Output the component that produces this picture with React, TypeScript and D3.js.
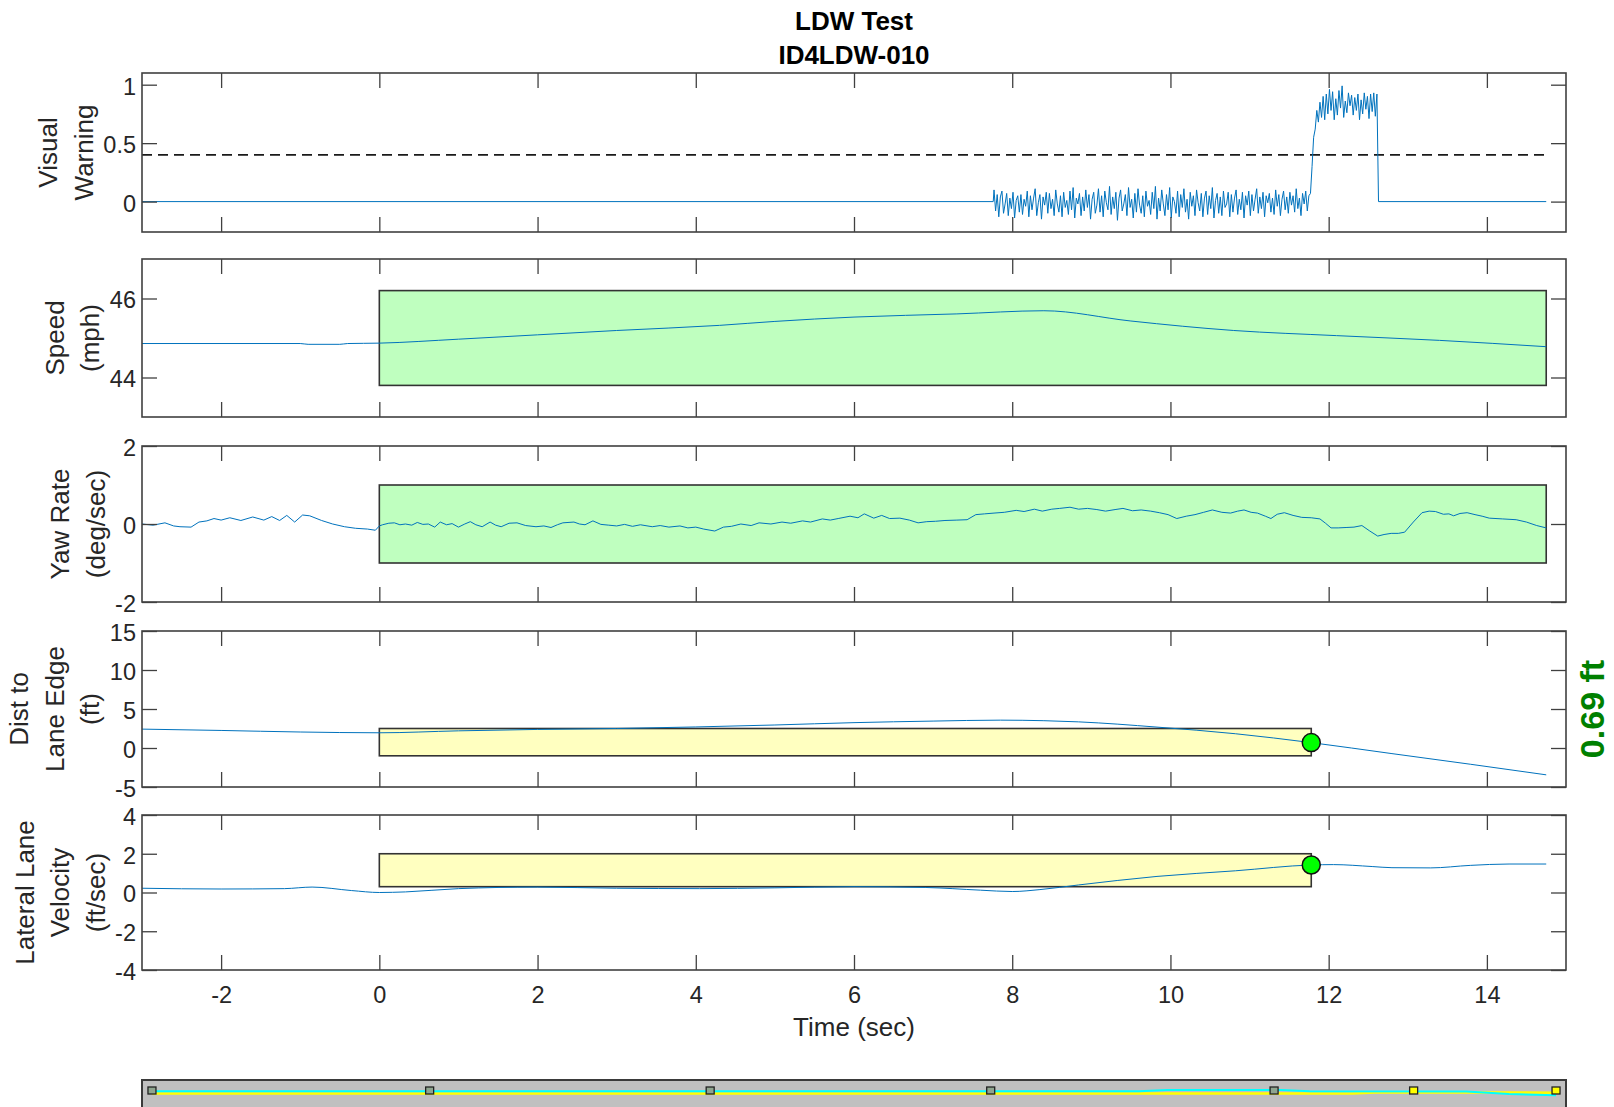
import * as d3 from 'd3';
import { useEffect, useRef } from 'react';

type Pt = [number, number];

// time axis
const timeDomain: [number, number] = [-3, 15];
const timeTicks = [-2, 0, 2, 4, 6, 8, 10, 12, 14];

// visual warning: flat, noisy band (sampled every 0.02 s from 7.77 s), then the alert
const warnNoiseStart = 7.77;
const warnNoiseStep = 0.02;
const warnNoise = [
  .10, -.08, .06, -.13, .04, .09, -.10, -.02, .07, -.12, .03, -.06, .08, -.14, .01, .05, -.09, .06, -.11, .02,
  -.04, .09, -.13, .05, -.07, .03, .11, -.12, -.01, .06, -.15, .04, -.03, .08, -.10, .07, -.06, .02, -.12, .10,
  -.02, -.09, .05, -.13, .08, -.05, .01, -.11, .09, -.07, .12, -.14, .03, -.02, .07, -.12, .04, -.08, .10, -.05,
  .06, -.15, .02, .08, -.10, -.03, .11, -.09, .05, -.13, .09, -.01, -.07, .13, -.11, .04, -.06, .08, -.16, .03,
  .10, -.08, -.02, .06, -.12, .12, -.05, .02, -.14, .07, -.09, .11, -.03, -.10, .05, -.13, .09, -.04, .01, -.11,
  .08, -.06, .13, -.15, .03, -.08, .10, -.02, -.12, .06, -.07, .12, -.14, .04, .00, -.10, .09, -.13, .06, -.05,
  .11, -.09, .02, -.15, .08, -.04, .05, -.12, .10, -.01, -.08, .07, -.13, .03, .09, -.11, .05, -.06, .12, -.14,
  .01, .07, -.10, .04, -.12, .09, -.05, -.02, .08, -.13, .06, -.09, .03, .10, -.11, .02, -.07, .08, -.14, .05,
  -.03, .09, -.12, .06, -.08, .02, .11, -.10, .04, -.06, .08, -.13, .05, -.01, .07, -.09, .03, -.11, .10, -.04,
  .06, -.12, .02, .09, -.07, .04, -.10, .08, -.03, .05, -.09, .11, -.06, .03, -.12, .07, -.02, .09, -.08, .05,
  .07,
];
const warnBefore: Pt[] = [[-3, 0], [7.76, 0]];
const warnAlert: Pt[] = [
  [11.79, 0.30], [11.81, 0.55], [11.83, 0.62], [11.85, 0.78], [11.87, 0.68], [11.89, 0.85], [11.91, 0.72],
  [11.93, 0.90], [11.95, 0.70], [11.97, 0.92], [11.99, 0.75], [12.01, 0.96], [12.03, 0.78], [12.05, 0.94],
  [12.07, 0.70], [12.09, 0.88], [12.11, 0.74], [12.13, 0.95], [12.15, 0.80], [12.17, 0.99], [12.19, 0.72],
  [12.21, 0.86], [12.23, 0.76], [12.25, 0.93], [12.27, 0.82], [12.29, 0.91], [12.31, 0.74], [12.33, 0.89],
  [12.35, 0.78], [12.37, 0.92], [12.39, 0.70], [12.41, 0.87], [12.43, 0.75], [12.45, 0.93], [12.47, 0.79],
  [12.49, 0.90], [12.51, 0.71], [12.53, 0.92], [12.55, 0.77], [12.57, 0.93], [12.59, 0.73], [12.61, 0.92],
  [12.63, 0.0], [14.75, 0.0],
];
const warningThreshold = 0.4;

const speed: Pt[] = [
  [-3, 44.86], [-1.0, 44.86], [-0.9, 44.84], [-0.5, 44.84], [-0.4, 44.86], [0, 44.87], [1, 44.97],
  [2, 45.08], [3, 45.19], [4.3, 45.32], [5, 45.42], [6, 45.53], [7.3, 45.61], [8.4, 45.69], [9.5, 45.43],
  [10.8, 45.19], [12.1, 45.06], [13.4, 44.94], [14.75, 44.78],
];

const yawRate: Pt[] = [
  [-3.0, 0], [-2.86, -0.03], [-2.71, 0.03], [-2.6, -0.05], [-2.52, -0.07], [-2.38, -0.08], [-2.28, 0.05],
  [-2.18, 0.08], [-2.09, 0.14], [-2.0, 0.1], [-1.89, 0.16], [-1.75, 0.09], [-1.6, 0.18], [-1.46, 0.1],
  [-1.36, 0.19], [-1.26, 0.09], [-1.17, 0.22], [-1.07, 0.05], [-0.97, 0.23], [-0.88, 0.21], [-0.73, 0.09],
  [-0.59, 0.0], [-0.44, -0.07], [-0.3, -0.11], [-0.15, -0.13], [-0.05, -0.16], [0.0, -0.05],
  [0.04, -0.02], [0.12, 0.02], [0.19, 0.03], [0.26, -0.02], [0.33, 0.0], [0.41, -0.03], [0.48, 0.04],
  [0.55, -0.01], [0.62, 0.0], [0.7, -0.08], [0.77, 0.05], [0.85, -0.02], [0.92, 0.01], [1.0, -0.08],
  [1.08, 0.0], [1.15, 0.06], [1.22, -0.02], [1.3, -0.07], [1.4, 0.05], [1.47, -0.03], [1.54, -0.07],
  [1.64, 0.02], [1.74, 0.03], [1.85, -0.04], [1.98, -0.07], [2.08, -0.05], [2.17, -0.09], [2.25, -0.02],
  [2.32, 0.03], [2.46, 0.05], [2.53, 0.0], [2.6, -0.02], [2.7, 0.08], [2.8, -0.01], [2.9, -0.03],
  [3.0, -0.05], [3.1, -0.01], [3.2, -0.06], [3.3, -0.02], [3.45, -0.07], [3.55, -0.04], [3.66, -0.08],
  [3.8, -0.05], [3.9, -0.1], [4.0, -0.08], [4.1, -0.13], [4.24, -0.18], [4.35, -0.08], [4.45, -0.06],
  [4.57, 0.0], [4.7, -0.04], [4.8, 0.03], [4.95, 0.0], [5.09, 0.05], [5.2, 0.02], [5.35, 0.08],
  [5.45, 0.05], [5.6, 0.13], [5.7, 0.1], [5.8, 0.14], [5.95, 0.2], [6.05, 0.16], [6.13, 0.26],
  [6.25, 0.15], [6.35, 0.22], [6.45, 0.14], [6.58, 0.15], [6.7, 0.1], [6.81, 0.03], [6.92, 0.06],
  [7.03, 0.07], [7.15, 0.09], [7.3, 0.1], [7.43, 0.11], [7.54, 0.24], [7.65, 0.26], [7.77, 0.28],
  [7.9, 0.3], [8.05, 0.35], [8.15, 0.32], [8.28, 0.38], [8.38, 0.33], [8.5, 0.38], [8.6, 0.4],
  [8.73, 0.43], [8.84, 0.38], [8.95, 0.4], [9.07, 0.37], [9.18, 0.33], [9.3, 0.37], [9.4, 0.4],
  [9.52, 0.34], [9.63, 0.36], [9.75, 0.33], [9.86, 0.29], [9.97, 0.24], [10.08, 0.14], [10.2, 0.2],
  [10.31, 0.24], [10.42, 0.3], [10.53, 0.36], [10.65, 0.3], [10.76, 0.28], [10.85, 0.33], [10.93, 0.36],
  [11.02, 0.3], [11.1, 0.28], [11.2, 0.2], [11.27, 0.14], [11.35, 0.25], [11.44, 0.29], [11.55, 0.22],
  [11.66, 0.17], [11.78, 0.16], [11.89, 0.13], [11.96, 0.02], [12.03, -0.1], [12.12, -0.1], [12.22, -0.09],
  [12.32, -0.08], [12.42, -0.04], [12.52, -0.18], [12.62, -0.31], [12.7, -0.27], [12.79, -0.24],
  [12.88, -0.24], [12.96, -0.21], [13.07, 0.05], [13.18, 0.29], [13.27, 0.33], [13.35, 0.32], [13.45, 0.25],
  [13.52, 0.26], [13.58, 0.21], [13.66, 0.27], [13.75, 0.29], [13.85, 0.24], [13.94, 0.2], [14.03, 0.15],
  [14.2, 0.13], [14.37, 0.11], [14.5, 0.05], [14.63, -0.04], [14.75, -0.1],
];

const distToEdge: Pt[] = [
  [-3, 2.42], [-2, 2.25], [-1, 2.05], [0, 1.95], [1, 2.2], [2, 2.38], [3, 2.5], [4, 2.7], [5, 2.95],
  [6, 3.25], [7, 3.45], [7.85, 3.57], [8.4, 3.5], [8.84, 3.35], [9.83, 2.68], [10.82, 1.83], [11.78, 0.69],
  [12.8, -0.72], [13.79, -2.08], [14.75, -3.44],
];

const latVelocity: Pt[] = [
  [-3, 0.22], [-2, 0.18], [-1.2, 0.2], [-0.85, 0.28], [-0.35, 0.1], [0, 0.0], [0.33, 0.03], [1, 0.2],
  [2, 0.28], [3, 0.22], [4.05, 0.2], [5, 0.24], [6, 0.3], [6.9, 0.26], [7.6, 0.12], [8, 0.05], [8.35, 0.15],
  [8.84, 0.39], [9.83, 0.83], [10.82, 1.12], [11.78, 1.42], [12.06, 1.44], [12.55, 1.34], [12.8, 1.28],
  [13.29, 1.27], [13.79, 1.4], [14.28, 1.47], [14.75, 1.47],
];

// pass/fail windows
const greenWindow = [0, 14.75];
const yellowWindow = [0, 11.78];
const speedLimits = [43.8, 46.2];
const yawLimits = [-1, 1];
const distLimits = [-1, 2.5];
const latVelLimits = [0.3, 2];
const warnTime = 11.78;
const distAtWarn = 0.69;
const latVelAtWarn = 1.42;
const distLabel = '0.69 ft';

// overview strip under the chart (fraction of run, lateral offset)
const stripMarkers = [0.007, 0.202, 0.399, 0.596, 0.795, 0.893, 0.993];
const stripMarkerLit = [false, false, false, false, false, true, true];
const stripCyan: Pt[] = [
  [0.007, 0.1], [0.7, 0.1], [0.72, 0.25], [0.8, 0.25], [0.82, 0.1], [0.93, 0.05], [0.96, -0.25], [0.993, -0.4],
];
const stripYellow: Pt[] = [[0.007, -0.2], [0.85, -0.2], [0.87, -0.02], [0.993, -0.08]];

const W = 1614;
const H = 1107;
const X_LEFT = 142;
const X_RIGHT = 1566;
const FONT = '"Liberation Sans", Arial, Helvetica, sans-serif';
const TICK = 15;
const AXIS = '#404040';
const TEXT = '#262626';
const LINE = '#0072BD';

interface Panel {
  top: number;
  bottom: number;
  domain: [number, number];
  ticks: number[];
  label: string[];
  data: Pt[];
  curve: d3.CurveFactory;
  band?: { t: number[]; v: number[]; fill: string };
  dot?: number;
}

export default function App() {
  const ref = useRef<SVGSVGElement | null>(null);

  useEffect(() => {
    if (!ref.current) return;
    const svg = d3.select(ref.current);
    svg.selectAll('*').remove();

    const warnSeries: Pt[] = [
      ...warnBefore,
      ...warnNoise.map((v, i) => [warnNoiseStart + i * warnNoiseStep, v] as Pt),
      ...warnAlert,
    ];

    const panels: Panel[] = [
      { top: 73, bottom: 232, domain: [-0.26, 1.1], ticks: [0, 0.5, 1], label: ['Visual', 'Warning'],
        data: warnSeries, curve: d3.curveLinear },
      { top: 259, bottom: 417, domain: [43, 47], ticks: [44, 46], label: ['Speed', '(mph)'],
        data: speed, curve: d3.curveMonotoneX, band: { t: greenWindow, v: speedLimits, fill: '#bfffbf' } },
      { top: 446, bottom: 602, domain: [-2, 2], ticks: [-2, 0, 2], label: ['Yaw Rate', '(deg/sec)'],
        data: yawRate, curve: d3.curveLinear, band: { t: greenWindow, v: yawLimits, fill: '#bfffbf' } },
      { top: 631, bottom: 787, domain: [-5, 15], ticks: [-5, 0, 5, 10, 15], label: ['Dist to', 'Lane Edge', '(ft)'],
        data: distToEdge, curve: d3.curveMonotoneX, band: { t: yellowWindow, v: distLimits, fill: '#ffffc0' },
        dot: distAtWarn },
      { top: 815, bottom: 970, domain: [-4, 4], ticks: [-4, -2, 0, 2, 4], label: ['Lateral Lane', 'Velocity', '(ft/sec)'],
        data: latVelocity, curve: d3.curveMonotoneX, band: { t: yellowWindow, v: latVelLimits, fill: '#ffffc0' },
        dot: latVelAtWarn },
    ];

    const x = d3.scaleLinear().domain(timeDomain).range([X_LEFT, X_RIGHT]);

    // title
    const title = svg.append('g').attr('font-family', FONT).attr('font-weight', 'bold')
      .attr('font-size', 26).attr('text-anchor', 'middle').attr('fill', '#000');
    title.append('text').attr('x', (X_LEFT + X_RIGHT) / 2).attr('y', 30).text('LDW Test');
    title.append('text').attr('x', (X_LEFT + X_RIGHT) / 2).attr('y', 64).text('ID4LDW-010');

    panels.forEach((p, i) => {
      const y = d3.scaleLinear().domain(p.domain).range([p.bottom, p.top]);
      const g = svg.append('g');
      const last = i === panels.length - 1;

      if (p.band) {
        g.append('rect')
          .attr('x', x(p.band.t[0]))
          .attr('y', y(p.band.v[1]))
          .attr('width', x(p.band.t[1]) - x(p.band.t[0]))
          .attr('height', y(p.band.v[0]) - y(p.band.v[1]))
          .attr('fill', p.band.fill)
          .attr('stroke', '#333')
          .attr('stroke-width', 1.6);
      }

      if (i === 0) {
        g.append('line')
          .attr('x1', x(timeDomain[0])).attr('x2', x(greenWindow[1]))
          .attr('y1', y(warningThreshold)).attr('y2', y(warningThreshold))
          .attr('stroke', '#1a1a1a').attr('stroke-width', 1.7).attr('stroke-dasharray', '10,6');
      }

      const line = d3.line<Pt>().x((d) => x(d[0])).y((d) => y(d[1])).curve(p.curve);
      g.append('path')
        .datum(p.data)
        .attr('d', line)
        .attr('fill', 'none')
        .attr('stroke', LINE)
        .attr('stroke-width', 1)
        .attr('stroke-linejoin', 'round');

      if (p.dot !== undefined) {
        g.append('circle')
          .attr('cx', x(warnTime)).attr('cy', y(p.dot)).attr('r', 9)
          .attr('fill', '#00ff00').attr('stroke', '#111').attr('stroke-width', 1.5);
      }

      // axes with inward ticks on all four sides
      const styleAxis = (sel: d3.Selection<SVGGElement, unknown, null, undefined>) => {
        sel.select('.domain').remove();
        sel.attr('font-family', FONT).attr('font-size', 23.5).attr('color', TEXT);
        sel.selectAll('line').attr('stroke', AXIS).attr('stroke-width', 1.3);
      };

      g.append('g').attr('transform', `translate(0,${p.bottom})`)
        .call(d3.axisBottom(x).tickValues(timeTicks).tickSize(-TICK).tickPadding(16.5)
          .tickFormat((d) => (last ? String(d) : '')))
        .call(styleAxis);
      g.append('g').attr('transform', `translate(0,${p.top})`)
        .call(d3.axisTop(x).tickValues(timeTicks).tickSize(-TICK).tickFormat(() => ''))
        .call(styleAxis);
      const axL = g.append('g').attr('transform', `translate(${X_LEFT},0)`)
        .call(d3.axisLeft(y).tickValues(p.ticks).tickSize(-TICK).tickPadding(6).tickFormat((d) => String(d)))
        .call(styleAxis);
      axL.selectAll('text').attr('dy', '0.4em');
      g.append('g').attr('transform', `translate(${X_RIGHT},0)`)
        .call(d3.axisRight(y).tickValues(p.ticks).tickSize(-TICK).tickFormat(() => ''))
        .call(styleAxis);

      g.append('rect')
        .attr('x', X_LEFT).attr('y', p.top)
        .attr('width', X_RIGHT - X_LEFT).attr('height', p.bottom - p.top)
        .attr('fill', 'none').attr('stroke', AXIS).attr('stroke-width', 1.6);

      // y label, placed left of the widest tick label
      const widest = d3.max(axL.selectAll<SVGTextElement, unknown>('text').nodes(),
        (n) => n.getComputedTextLength()) ?? 0;
      const lastX = X_LEFT - 6 - widest - 19.5;
      const cy = (p.top + p.bottom) / 2;
      p.label.forEach((txt, k) => {
        const cx = lastX - (p.label.length - 1 - k) * 35.5;
        g.append('text')
          .attr('transform', `translate(${cx},${cy}) rotate(-90)`)
          .attr('text-anchor', 'middle')
          .attr('dominant-baseline', 'central')
          .attr('font-family', FONT).attr('font-size', 26).attr('fill', TEXT)
          .text(txt);
      });

      if (p.dot === distAtWarn) {
        svg.append('text')
          .attr('transform', `translate(1592,${cy}) rotate(-90)`)
          .attr('text-anchor', 'middle')
          .attr('dominant-baseline', 'central')
          .attr('font-family', FONT).attr('font-weight', 'bold').attr('font-size', 34)
          .attr('fill', '#008000')
          .text(distLabel);
      }

      if (last) {
        svg.append('text')
          .attr('x', (X_LEFT + X_RIGHT) / 2).attr('y', 1036)
          .attr('text-anchor', 'middle')
          .attr('font-family', FONT).attr('font-size', 26).attr('fill', TEXT)
          .text('Time (sec)');
      }
    });

    // overview strip
    const sx = d3.scaleLinear().domain([0, 1]).range([X_LEFT, X_RIGHT]);
    const sy = d3.scaleLinear().domain([-1, 1]).range([1100, 1084]);
    const strip = svg.append('g');
    strip.append('rect')
      .attr('x', X_LEFT).attr('y', 1080).attr('width', X_RIGHT - X_LEFT).attr('height', 40)
      .attr('fill', '#c0c0c0').attr('stroke', '#3a3a3a').attr('stroke-width', 2);
    const sline = d3.line<Pt>().x((d) => sx(d[0])).y((d) => sy(d[1]));
    strip.append('path').datum(stripYellow).attr('d', sline)
      .attr('fill', 'none').attr('stroke', '#ffff00').attr('stroke-width', 2.5);
    strip.append('path').datum(stripCyan).attr('d', sline)
      .attr('fill', 'none').attr('stroke', '#00ffff').attr('stroke-width', 2);
    strip.selectAll('rect.mk')
      .data(stripMarkers)
      .join('rect')
      .attr('class', 'mk')
      .attr('x', (d) => sx(d) - 4).attr('y', 1087).attr('width', 8).attr('height', 7)
      .attr('fill', (_, k) => (stripMarkerLit[k] ? '#ffff00' : '#8fa58f'))
      .attr('stroke', '#222').attr('stroke-width', 1.3);
  }, []);

  return (
    <svg
      ref={ref}
      width={W}
      height={H}
      style={{ position: 'fixed', left: 0, top: 0, background: '#fff', display: 'block' }}
    />
  );
}
